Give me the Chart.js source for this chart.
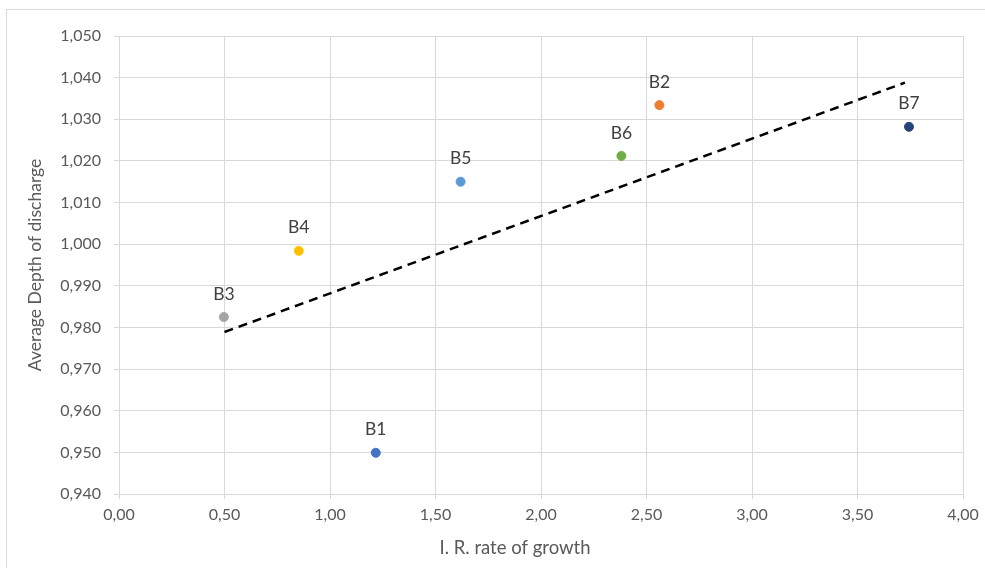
<!DOCTYPE html>
<html lang="en">
<head>
  <meta charset="UTF-8">
  <title>Depth of discharge vs rate of growth</title>
  <script src="https://cdn.jsdelivr.net/npm/chart.js"></script>
  <style>
    html, body { margin: 0; padding: 0; background: #fff; }
    .frame { position: absolute; left: 6px; top: 9px; width: 985px; height: 570px; border: 1px solid #d9d9d9; box-sizing: border-box; }
    .wrap { position: absolute; left: 0; top: 0; width: 985px; height: 568px; }
  </style>
</head>
<body>
  <div class="frame"></div>
  <div class="wrap"><canvas id="chart"></canvas></div>

  <script>
    // points
    const names = ['B1', 'B2', 'B3', 'B4', 'B5', 'B6', 'B7'];
    const growth = [1.217, 2.561, 0.497, 0.852, 1.619, 2.381, 3.744];
    const depth = [0.9499, 1.0334, 0.9825, 0.9984, 1.0150, 1.0212, 1.0282];
    const colors = ['#4472C4', '#ED7D31', '#A5A5A5', '#FFC000', '#5B9BD5', '#70AD47', '#264478'];

    // trend line ends
    const trendX = [0.50, 3.725];
    const trendY = [0.9789, 1.0388];

    const xTitle = 'I. R. rate of growth';
    const yTitle = 'Average Depth of discharge';

    const font = 'Lato, "Open Sans", sans-serif';
    const comma = (v, d) => Number(v).toFixed(d).replace('.', ',');

    // labels above each point + x axis title (Excel puts it a bit left of the plot centre)
    const pointLabels = {
      id: 'pointLabels',
      afterDatasetsDraw(chart) {
        const ctx = chart.ctx;
        const meta = chart.getDatasetMeta(1);
        ctx.save();
        ctx.font = '17.5px ' + font;
        ctx.fillStyle = '#404040';
        ctx.textAlign = 'center';
        ctx.textBaseline = 'middle';
        meta.data.forEach((pt, i) => {
          ctx.fillText(names[i], pt.x, pt.y - 23);
        });
        ctx.font = '18.5px ' + font;
        ctx.fillStyle = '#595959';
        ctx.fillText(xTitle, 515, 548);
        ctx.restore();
      }
    };

    new Chart(document.getElementById('chart'), {
      type: 'scatter',
      data: {
        datasets: [
          {
            type: 'line',
            data: trendX.map((x, i) => ({ x, y: trendY[i] })),
            borderColor: '#000',
            borderWidth: 2.5,
            borderDash: [9, 6],
            pointRadius: 0,
            fill: false
          },
          {
            data: growth.map((x, i) => ({ x, y: depth[i] })),
            backgroundColor: colors,
            borderColor: colors,
            pointRadius: 4.5,
            pointHoverRadius: 4.5
          }
        ]
      },
      plugins: [pointLabels],
      options: {
        responsive: true,
        maintainAspectRatio: false,
        animation: false,
        layout: { padding: { left: 0, top: 36, right: 22, bottom: 0 } },
        plugins: { legend: { display: false }, tooltip: { enabled: false } },
        scales: {
          x: {
            type: 'linear',
            min: 0, max: 4,
            ticks: { stepSize: 0.5, color: '#595959', font: { family: font, size: 16 }, padding: 6,
                     callback: v => comma(v, 2) },
            grid: { color: '#d9d9d9', tickLength: 5 },
            border: { color: '#d9d9d9' },
            afterFit(s) { s.height = 74; }
          },
          y: {
            min: 0.94, max: 1.05,
            ticks: { stepSize: 0.01, color: '#595959', font: { family: font, size: 16 }, padding: 13,
                     callback: v => comma(v, 3) },
            grid: { color: '#d9d9d9', tickLength: 5 },
            border: { color: '#d9d9d9' },
            title: { display: true, text: yTitle, color: '#595959',
                     font: { family: font, size: 17.5 }, padding: { top: 25, bottom: 0 } },
            afterFit(s) { s.width = 119; }
          }
        }
      }
    });
  </script>
</body>
</html>
